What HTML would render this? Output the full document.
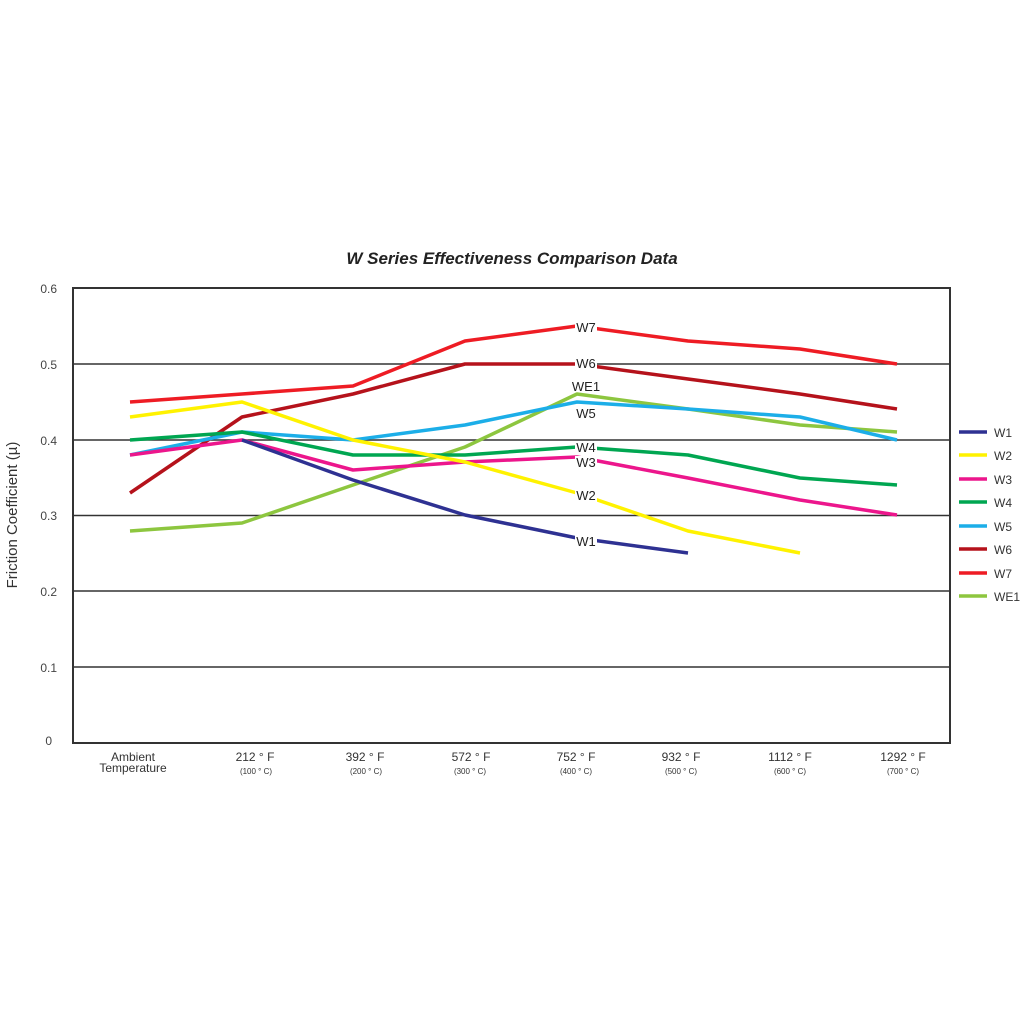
<!DOCTYPE html>
<html><head><style>body{margin:0;background:#fff}svg{display:block}</style></head><body>
<svg width="1024" height="1024" viewBox="0 0 1024 1024" font-family="Liberation Sans, sans-serif">
<rect width="1024" height="1024" fill="#fff"/>
<text x="512" y="264" text-anchor="middle" font-size="17" font-weight="bold" font-style="italic" fill="#222">W Series Effectiveness Comparison Data</text>
<g stroke="#333" stroke-width="1.5">
<line x1="73" y1="364" x2="950" y2="364"/><line x1="73" y1="440" x2="950" y2="440"/>
<line x1="73" y1="515.5" x2="950" y2="515.5"/><line x1="73" y1="591" x2="950" y2="591"/>
<line x1="73" y1="667" x2="950" y2="667"/>
</g>
<rect x="73" y="288" width="877" height="455" fill="none" stroke="#333" stroke-width="2"/>
<g font-size="12" fill="#444" text-anchor="end">
<text x="57" y="293">0.6</text><text x="57" y="369">0.5</text><text x="57" y="445">0.4</text>
<text x="57" y="520">0.3</text><text x="57" y="596">0.2</text><text x="57" y="672">0.1</text><text x="52" y="745">0</text>
</g>
<text transform="translate(17,515) rotate(-90)" text-anchor="middle" font-size="15" fill="#333">Friction Coefficient (µ)</text>
<g font-size="12" fill="#333" text-anchor="middle">
<text x="133" y="761">Ambient</text><text x="133" y="772">Temperature</text>
<text x="255" y="761">212 ° F</text><text x="365" y="761">392 ° F</text><text x="471" y="761">572 ° F</text>
<text x="576" y="761">752 ° F</text><text x="681" y="761">932 ° F</text><text x="790" y="761">1112 ° F</text><text x="903" y="761">1292 ° F</text>
</g>
<g font-size="8" fill="#333" text-anchor="middle">
<text x="256" y="774">(100 ° C)</text><text x="366" y="774">(200 ° C)</text><text x="470" y="774">(300 ° C)</text>
<text x="576" y="774">(400 ° C)</text><text x="681" y="774">(500 ° C)</text><text x="790" y="774">(600 ° C)</text><text x="903" y="774">(700 ° C)</text>
</g>
<g fill="none" stroke-width="3.5" stroke-linejoin="round">
<polyline stroke="#8dc63f" points="130,531 242,523 353,485 465,447 577,394 688,409 800,425 897,432"/>
<polyline stroke="#ee1c24" points="130,402 242,394 353,386 465,341 577,326 688,341 800,349 897,364"/>
<polyline stroke="#b5121b" points="130,493 242,417 353,394 465,364 577,364 688,379 800,394 897,409"/>
<polyline stroke="#1caee8" points="130,455 242,432 353,440 465,425 577,402 688,409 800,417 897,440"/>
<polyline stroke="#00a651" points="130,440 242,432 353,455 465,455 577,447 688,455 800,478 897,485"/>
<polyline stroke="#ec168c" points="130,455 242,440 353,470 465,462 577,457 688,478 800,500 897,515"/>
<polyline stroke="#fff200" points="130,417 242,402 353,440 465,462 577,493 688,531 800,553"/>
<polyline stroke="#2e3192" points="242,440 353,480 465,515 577,538 688,553"/>
</g>
<g fill="#fff">
<rect x="575" y="321" width="22" height="13"/><rect x="575" y="357" width="22" height="13"/>
<rect x="575" y="441" width="22" height="13"/><rect x="575" y="456" width="22" height="13"/>
<rect x="575" y="489" width="22" height="13"/><rect x="575" y="535" width="22" height="13"/>
</g>
<g font-size="13" fill="#222" text-anchor="middle">
<text x="586" y="332">W7</text><text x="586" y="368">W6</text><text x="586" y="391">WE1</text>
<text x="586" y="418">W5</text><text x="586" y="452">W4</text><text x="586" y="467">W3</text>
<text x="586" y="500">W2</text><text x="586" y="546">W1</text>
</g>
<g stroke-width="3.5">
<line x1="959" y1="432" x2="987" y2="432" stroke="#2e3192"/>
<line x1="959" y1="455" x2="987" y2="455" stroke="#fff200"/>
<line x1="959" y1="479" x2="987" y2="479" stroke="#ec168c"/>
<line x1="959" y1="502" x2="987" y2="502" stroke="#00a651"/>
<line x1="959" y1="526" x2="987" y2="526" stroke="#1caee8"/>
<line x1="959" y1="549" x2="987" y2="549" stroke="#b5121b"/>
<line x1="959" y1="573" x2="987" y2="573" stroke="#ee1c24"/>
<line x1="959" y1="596" x2="987" y2="596" stroke="#8dc63f"/>
</g>
<g font-size="12" fill="#333">
<text x="994" y="437">W1</text><text x="994" y="460">W2</text><text x="994" y="484">W3</text><text x="994" y="507">W4</text>
<text x="994" y="531">W5</text><text x="994" y="554">W6</text><text x="994" y="578">W7</text><text x="994" y="601">WE1</text>
</g>
</svg>
</body></html>
